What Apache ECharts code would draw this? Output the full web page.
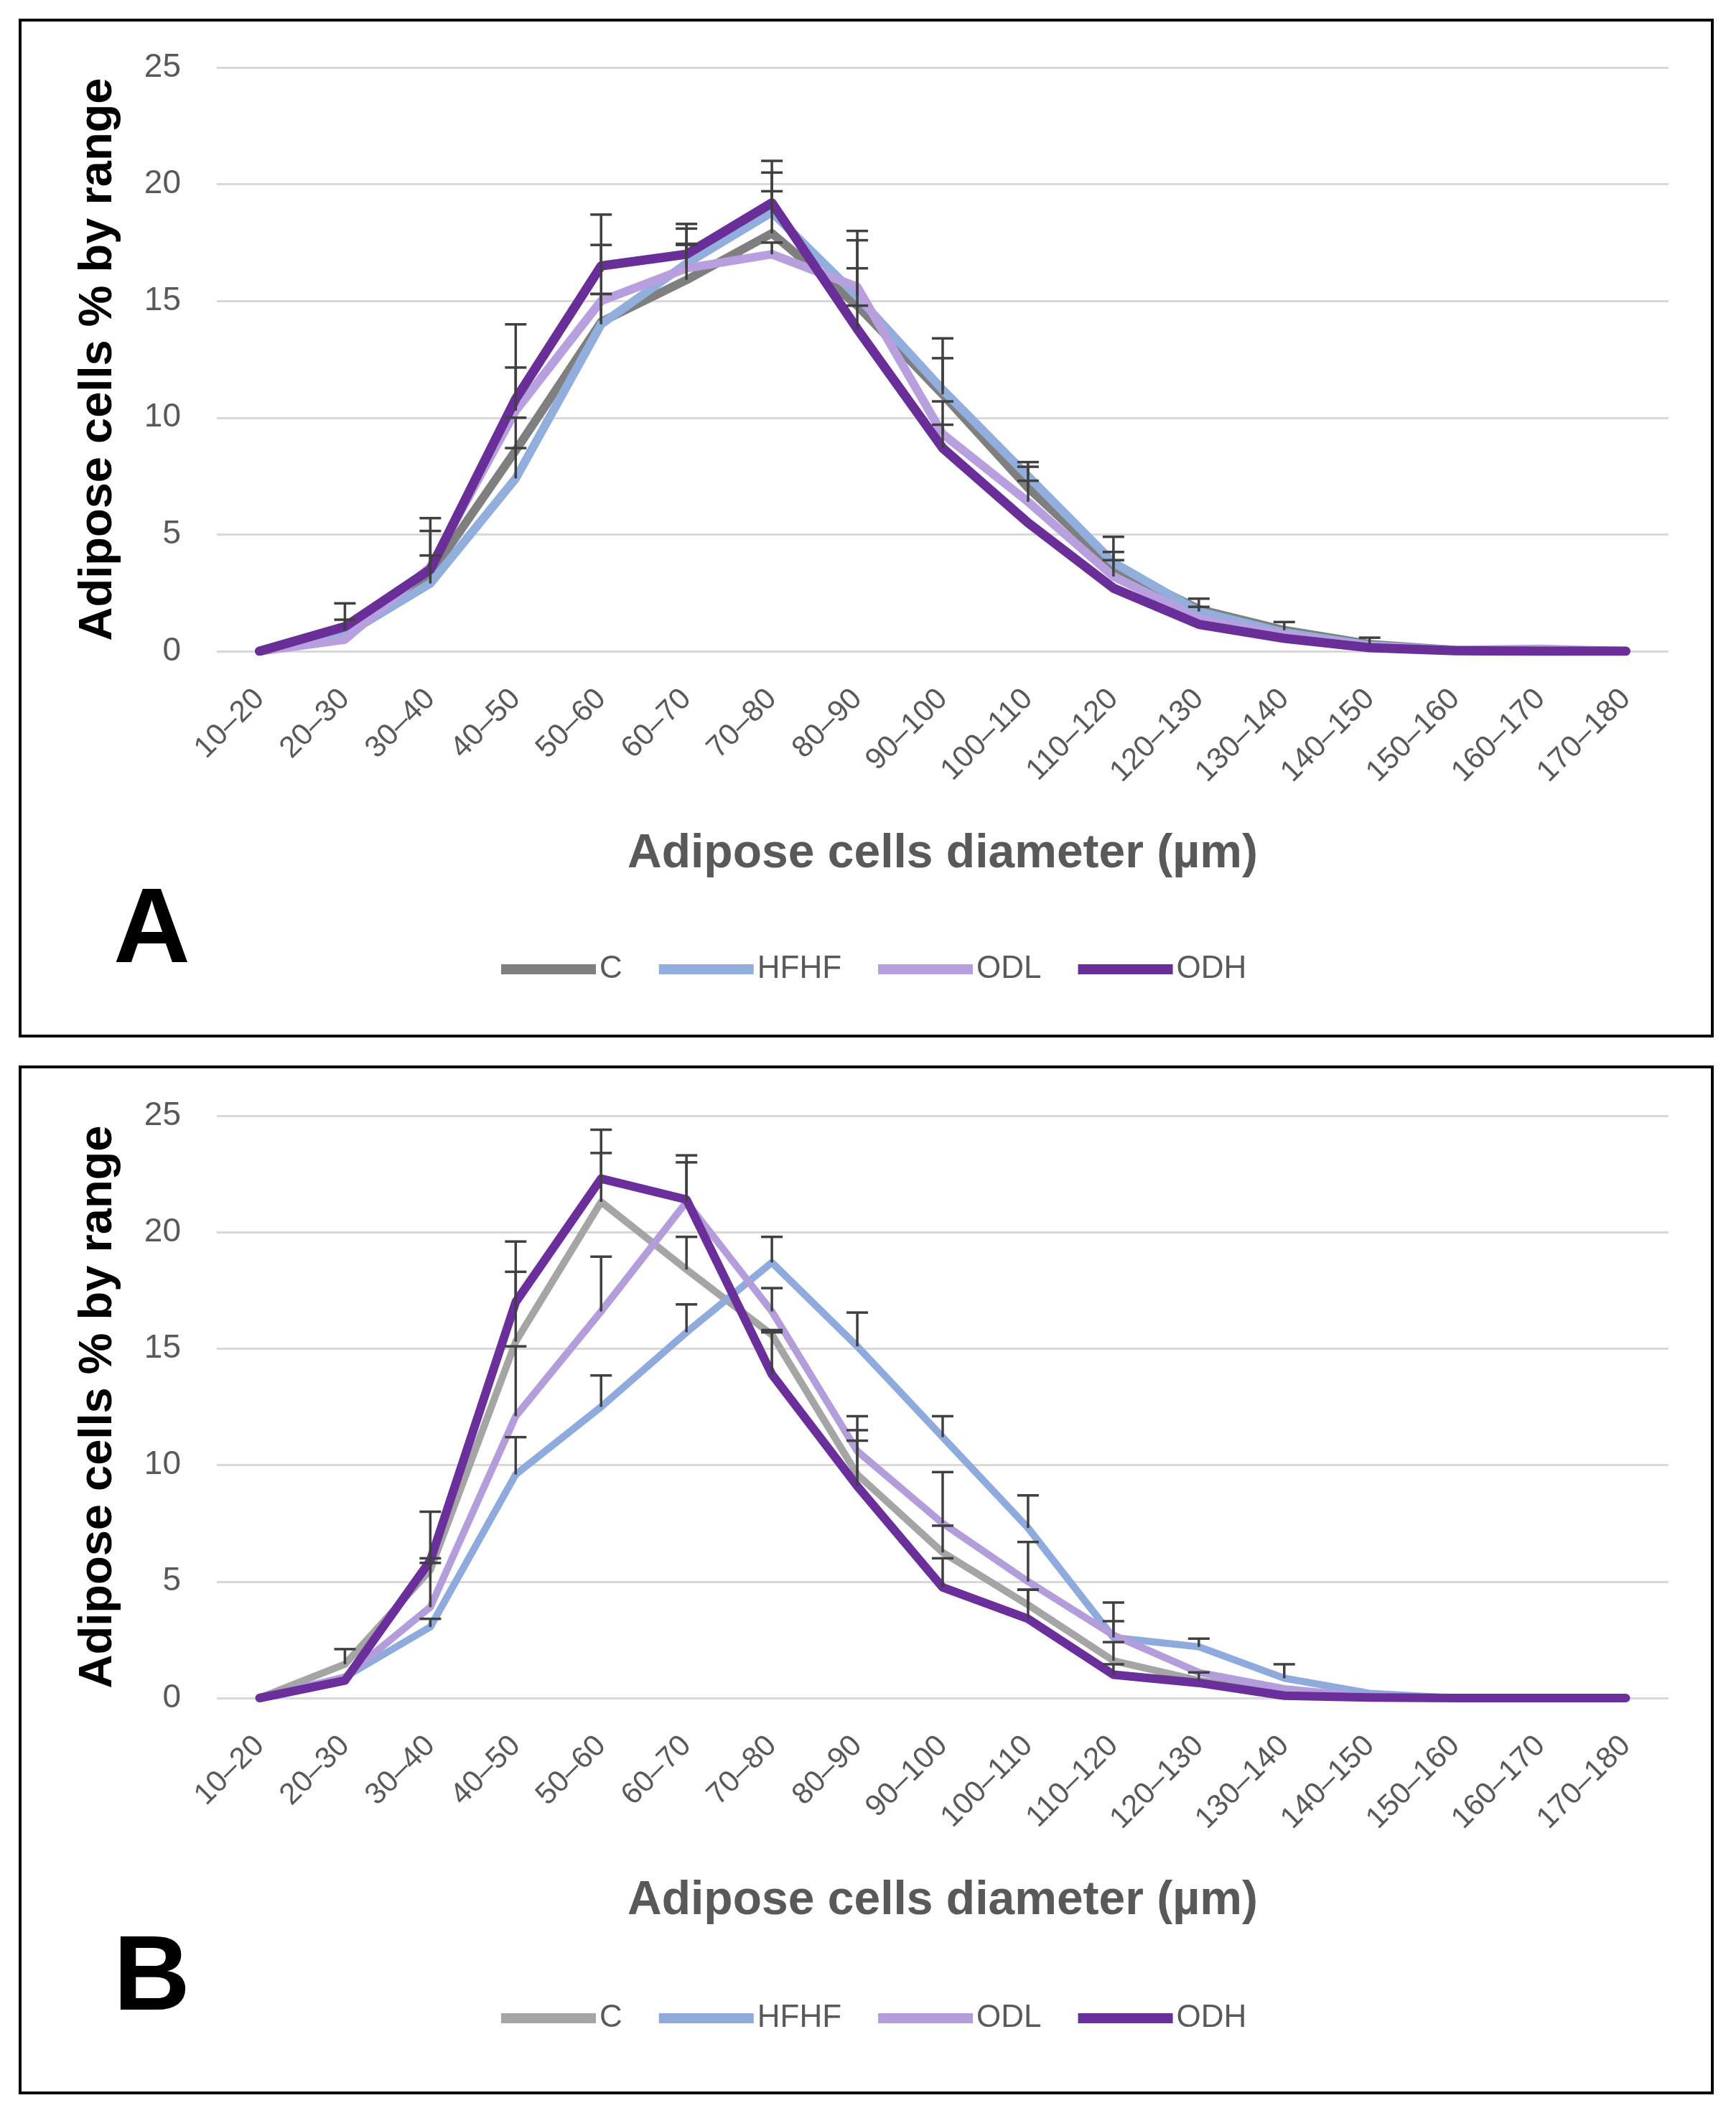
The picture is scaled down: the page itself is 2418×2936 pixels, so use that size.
<!DOCTYPE html>
<html><head><meta charset="utf-8">
<script src="https://cdn.jsdelivr.net/npm/echarts@6/dist/echarts.min.js"></script>
<style>html,body{margin:0;padding:0;background:#fff}#c{width:2418px;height:2936px}</style>
</head><body><div id="c"></div>
<script>
const categories = ['10–20','20–30','30–40','40–50','50–60','60–70','70–80','80–90','90–100','100–110','110–120','120–130','130–140','140–150','150–160','160–170','170–180'];
const seriesNames = ['C','HFHF','ODL','ODH'];
const yTitle = 'Adipose cells % by range';
const xTitle = 'Adipose cells diameter (µm)';

// Panel A values (%)
const C_A    = [0, 0.9, 3.3, 8.6, 14.1, 15.9, 17.9, 14.8, 11.0, 7.0, 3.6, 1.8, 0.9, 0.3, 0.05, 0, 0];
const HFHF_A = [0, 0.7, 2.9, 7.4, 14.0, 16.6, 18.8, 15.2, 11.2, 7.5, 3.8, 1.7, 0.8, 0.25, 0.05, 0, 0];
const ODL_A  = [0, 0.5, 3.6, 10.3, 15.0, 16.4, 17.0, 15.6, 9.3, 6.4, 3.2, 1.4, 0.7, 0.2, 0.05, 0.1, 0];
const ODH_A  = [0, 1.05, 3.5, 10.8, 16.5, 17.0, 19.2, 13.8, 8.7, 5.5, 2.7, 1.15, 0.55, 0.15, 0.02, 0, 0];
// Panel A upper error (+)
const errC_A    = [0, 0.45, 1.85, 1.4, 1.2, 1.5, 1.8, 1.6, 1.55, 0.9, 0.65, 0.45, 0.35, 0.28, 0, 0, 0];
const errHFHF_A = [0, 0, 1.2, 1.3, 1.3, 1.5, 1.7, 2.4, 2.2, 0.6, 1.1, 0.2, 0, 0, 0, 0, 0];
const errODL_A  = [0, 0, 0, 1.85, 2.4, 1.05, 0.5, 2.4, 1.4, 0.9, 0.7, 0, 0, 0, 0, 0, 0];
const errODH_A  = [0, 1.0, 2.2, 3.2, 2.2, 1.3, 1.8, 1.0, 1.0, 0, 0, 0, 0, 0, 0, 0, 0];

// Panel B values (%)
const C_B    = [0, 1.45, 5.5, 15.3, 21.3, 18.4, 15.6, 9.6, 6.25, 4.0, 1.6, 0.75, 0.3, 0.05, 0, 0, 0];
const HFHF_B = [0, 0.9, 3.05, 9.6, 12.5, 15.7, 18.7, 15.1, 11.2, 7.3, 2.6, 2.2, 0.85, 0.2, 0, 0, 0];
const ODL_B  = [0, 0.9, 3.9, 12.1, 16.6, 21.3, 16.6, 10.6, 7.5, 5.0, 2.7, 1.1, 0.4, 0.05, 0, 0, 0];
const ODH_B  = [0, 0.75, 5.9, 17.0, 22.3, 21.4, 13.9, 9.1, 4.75, 3.4, 1.0, 0.65, 0.1, 0.02, 0, 0, 0];
// Panel B upper error (+)
const errC_B    = [0, 0.65, 0.3, 3.0, 2.1, 1.4, 0.2, 1.9, 1.15, 0.65, 0.8, 0.35, 0, 0, 0, 0, 0];
const errHFHF_B = [0, 0, 0.35, 1.6, 1.35, 1.2, 1.1, 1.45, 0.9, 1.4, 1.5, 0.35, 0.6, 0, 0, 0, 0];
const errODL_B  = [0, 0, 2.1, 3.0, 2.35, 1.7, 1.0, 1.5, 2.2, 1.7, 0.6, 0, 0, 0, 0, 0, 0];
const errODH_B  = [0, 0, 2.1, 2.6, 2.1, 1.9, 1.8, 1.95, 1.25, 1.25, 0.45, 0, 0, 0, 0, 0, 0];

const colorsA = ['#7f7f7f', '#92aedc', '#b8a0df', '#6a2e98'];
const colorsB = ['#a5a5a5', '#8faadc', '#b39ddb', '#6b2f9c'];
const widthsA = [12, 12, 12, 13];
const widthsB = [10, 10, 10, 12];

const FONT = '"Liberation Sans", Arial, sans-serif';
const valsA = [C_A, HFHF_A, ODL_A, ODH_A];
const errsA = [errC_A, errHFHF_A, errODL_A, errODH_A];
const valsB = [C_B, HFHF_B, ODL_B, ODH_B];
const errsB = [errC_B, errHFHF_B, errODL_B, errODH_B];

function buildErr(vals, errs) {
  const out = [];
  vals.forEach((v, s) => v.forEach((y, i) => { if (errs[s][i] > 0) out.push([i, y, errs[s][i]]); }));
  return out;
}
function renderErr(params, api) {
  const x = api.value(0), y = api.value(1), e = api.value(2);
  const p0 = api.coord([x, y]);
  const p1 = api.coord([x, y + e]);
  const hw = 15;
  const st = { stroke: '#404040', lineWidth: 3.5 };
  return { type: 'group', children: [
    { type: 'line', shape: { x1: p0[0], y1: p0[1], x2: p1[0], y2: p1[1] }, style: st },
    { type: 'line', shape: { x1: p1[0] - hw, y1: p1[1], x2: p1[0] + hw, y2: p1[1] }, style: st }
  ]};
}

function xAxisFor(idx) {
  return {
    gridIndex: idx, type: 'category', data: categories, boundaryGap: true,
    axisLine: { show: false }, axisTick: { show: false }, splitLine: { show: false },
    axisLabel: { rotate: 45, margin: 60, fontSize: 42, color: '#595959', fontFamily: FONT, interval: 0 },
    name: xTitle, nameLocation: 'middle', nameGap: 250,
    nameTextStyle: { fontSize: 66, fontWeight: 'bold', color: '#595959', fontFamily: FONT }
  };
}
function yAxisFor(idx) {
  return {
    gridIndex: idx, type: 'value', min: 0, max: 25, interval: 5,
    axisLine: { show: false }, axisTick: { show: false },
    splitLine: { show: true, lineStyle: { color: '#d9d9d9', width: 3 } },
    axisLabel: { margin: 50, fontSize: 46, color: '#595959', fontFamily: FONT },
    name: yTitle, nameLocation: 'middle', nameGap: 132, nameRotate: 90,
    nameTextStyle: { fontSize: 65, fontWeight: 'bold', color: '#000', fontFamily: FONT }
  };
}
function lineSeries(idx, vals, colors, widths) {
  return seriesNames.map((n, s) => ({
    name: n, type: 'line', xAxisIndex: idx, yAxisIndex: idx, data: vals[s],
    symbol: 'none', smooth: false, color: colors[s],
    lineStyle: { color: colors[s], width: widths[s], join: 'round', cap: 'round' },
    z: 2 + s
  }));
}
function legendFor(top, colors) {
  return {
    top: top, left: 693, itemWidth: 132, itemHeight: 14, itemGap: 51, icon: 'rect',
    lineStyle: { width: 12 },
    textStyle: { fontSize: 44, color: '#595959', fontFamily: FONT },
    data: seriesNames.map((n, s) => ({ name: n, itemStyle: { color: colors[s] }, lineStyle: { color: colors[s], width: 12 } }))
  };
}

const chart = echarts.init(document.getElementById('c'), null, { renderer: 'canvas' });
chart.setOption({
  backgroundColor: '#fff',
  animation: false,
  textStyle: { fontFamily: FONT },
  grid: [
    { left: 302, top: 94, width: 2022, height: 813 },
    { left: 302, top: 1554, width: 2022, height: 811 }
  ],
  xAxis: [xAxisFor(0), xAxisFor(1)],
  yAxis: [yAxisFor(0), yAxisFor(1)],
  legend: [legendFor(1323, colorsA), legendFor(2784, colorsB)],
  graphic: [
    { type: 'rect', shape: { x: 28, y: 28, width: 2357, height: 1415 }, style: { fill: 'none', stroke: '#000', lineWidth: 4 } },
    { type: 'rect', shape: { x: 28, y: 1486, width: 2357, height: 1429 }, style: { fill: 'none', stroke: '#000', lineWidth: 4 } },
    { type: 'text', x: 158, y: 1299, style: { text: 'A', fontSize: 148, fontWeight: 'bold', fontFamily: FONT, fill: '#000', align: 'left', verticalAlign: 'middle' } },
    { type: 'text', x: 158, y: 2758, style: { text: 'B', fontSize: 148, fontWeight: 'bold', fontFamily: FONT, fill: '#000', align: 'left', verticalAlign: 'middle' } }
  ],
  series: [
    ...lineSeries(0, valsA, colorsA, widthsA),
    { name: 'errA', type: 'custom', xAxisIndex: 0, yAxisIndex: 0, renderItem: renderErr, data: buildErr(valsA, errsA), encode: { x: 0, y: 1 }, z: 20, silent: true },
    ...lineSeries(1, valsB, colorsB, widthsB),
    { name: 'errB', type: 'custom', xAxisIndex: 1, yAxisIndex: 1, renderItem: renderErr, data: buildErr(valsB, errsB), encode: { x: 0, y: 1 }, z: 20, silent: true }
  ]
});
</script></body></html>
